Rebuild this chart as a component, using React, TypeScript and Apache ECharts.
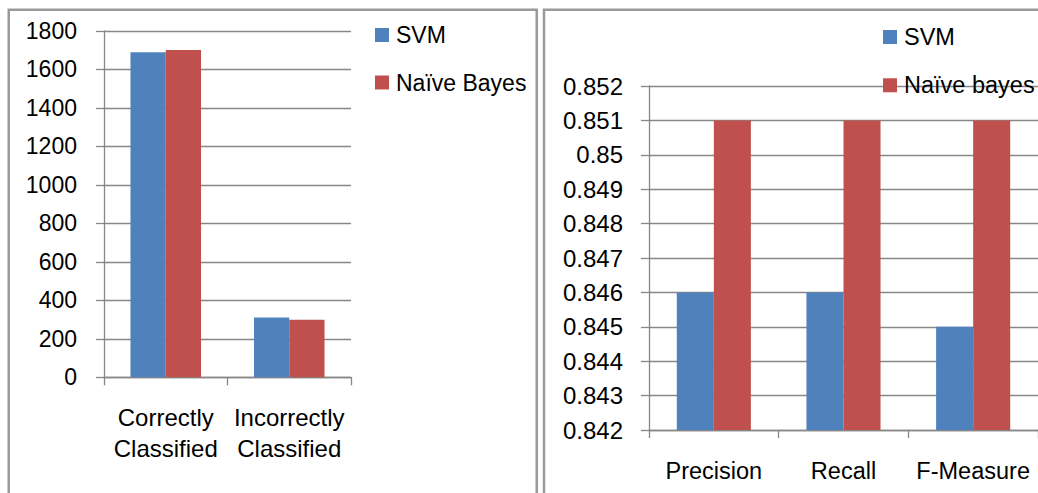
import React, { useEffect, useRef } from "react";
import * as echarts from "echarts";

const leftCategories = ["Correctly\nClassified", "Incorrectly\nClassified"];
const leftSvm = [1689, 311];
const leftNaiveBayes = [1701, 299];

const rightCategories = ["Precision", "Recall", "F-Measure"];
const rightSvm = [0.846, 0.846, 0.845];
const rightNaiveBayes = [0.851, 0.851, 0.851];

const BLUE = "#4F81BD";
const RED = "#C0504D";
const GRAY = "#878787";
const FONT = "Liberation Sans";

export default function App() {
  const ref = useRef<HTMLDivElement>(null);

  useEffect(() => {
    if (!ref.current) return;
    const chart = echarts.init(ref.current, undefined, { renderer: "svg" });

    const axisCommon = {
      axisLine: { show: true, lineStyle: { color: GRAY, width: 1.3 } },
      axisTick: { show: true, length: 8, lineStyle: { color: GRAY, width: 1.3 } },
    };

    chart.setOption({
      animation: false,
      backgroundColor: "#ffffff",
      textStyle: { fontFamily: FONT },
      graphic: [
        {
          type: "rect",
          shape: { x: 8.75, y: 9.75, width: 528, height: 520 },
          style: { fill: "none", stroke: "#9a9a9a", lineWidth: 2.5 },
          silent: true,
        },
        {
          type: "rect",
          shape: { x: 544, y: 9.75, width: 540, height: 520 },
          style: { fill: "none", stroke: "#9a9a9a", lineWidth: 2.5 },
          silent: true,
        },
      ],
      legend: [
        {
          orient: "vertical",
          left: 375,
          top: 23.5,
          padding: 0,
          itemWidth: 14,
          itemHeight: 14,
          itemGap: 24.5,
          icon: "rect",
          data: ["SVM", "Naïve Bayes"],
          textStyle: { fontSize: 23, color: "#000", fontFamily: FONT, padding: [0, 0, 0, 2] },
        },
        {
          orient: "vertical",
          left: 883,
          top: 25,
          padding: 0,
          itemWidth: 14,
          itemHeight: 14,
          itemGap: 24.3,
          icon: "rect",
          data: ["SVM ", "Naïve bayes"],
          textStyle: { fontSize: 23.5, color: "#000", fontFamily: FONT, padding: [0, 0, 0, 2] },
        },
      ],
      grid: [
        { left: 104, top: 31, width: 247, height: 346.3, containLabel: false },
        { left: 649, top: 86, width: 396, height: 344, containLabel: false },
      ],
      xAxis: [
        {
          type: "category",
          gridIndex: 0,
          data: leftCategories,
          ...axisCommon,
          axisLabel: {
            margin: 25,
            fontSize: 24,
            lineHeight: 31,
            color: "#000",
            fontFamily: FONT,
            interval: 0,
          },
        },
        {
          type: "category",
          gridIndex: 1,
          data: rightCategories,
          ...axisCommon,
          axisLabel: {
            margin: 25,
            fontSize: 23.5,
            lineHeight: 31,
            color: "#000",
            fontFamily: FONT,
            interval: 0,
          },
        },
      ],
      yAxis: [
        {
          type: "value",
          gridIndex: 0,
          min: 0,
          max: 1800,
          interval: 200,
          ...axisCommon,
          splitLine: { show: true, lineStyle: { color: GRAY, width: 1.3 } },
          axisLabel: {
            margin: 27,
            fontSize: 23,
            color: "#000",
            fontFamily: FONT,
            formatter: (v: number) => String(Math.round(v)),
          },
        },
        {
          type: "value",
          gridIndex: 1,
          min: 0.842,
          max: 0.852,
          interval: 0.001,
          ...axisCommon,
          splitLine: { show: true, lineStyle: { color: GRAY, width: 1.3 } },
          axisLabel: {
            margin: 26,
            fontSize: 24,
            color: "#000",
            fontFamily: FONT,
            formatter: (v: number) => String(Number(v.toFixed(3))),
          },
        },
      ],
      series: [
        {
          name: "SVM",
          type: "bar",
          xAxisIndex: 0,
          yAxisIndex: 0,
          data: leftSvm,
          barGap: "0%",
          barCategoryGap: "42.86%",
          itemStyle: { color: BLUE },
        },
        {
          name: "Naïve Bayes",
          type: "bar",
          xAxisIndex: 0,
          yAxisIndex: 0,
          data: leftNaiveBayes,
          barGap: "0%",
          barCategoryGap: "42.86%",
          itemStyle: { color: RED },
        },
        {
          name: "SVM ",
          type: "bar",
          xAxisIndex: 1,
          yAxisIndex: 1,
          data: rightSvm,
          barGap: "0%",
          barCategoryGap: "42.86%",
          itemStyle: { color: BLUE },
        },
        {
          name: "Naïve bayes",
          type: "bar",
          xAxisIndex: 1,
          yAxisIndex: 1,
          data: rightNaiveBayes,
          barGap: "0%",
          barCategoryGap: "42.86%",
          itemStyle: { color: RED },
        },
      ],
    });

    return () => chart.dispose();
  }, []);

  return (
    <div
      ref={ref}
      style={{ position: "absolute", left: 0, top: 0, width: 1038, height: 493 }}
    />
  );
}
